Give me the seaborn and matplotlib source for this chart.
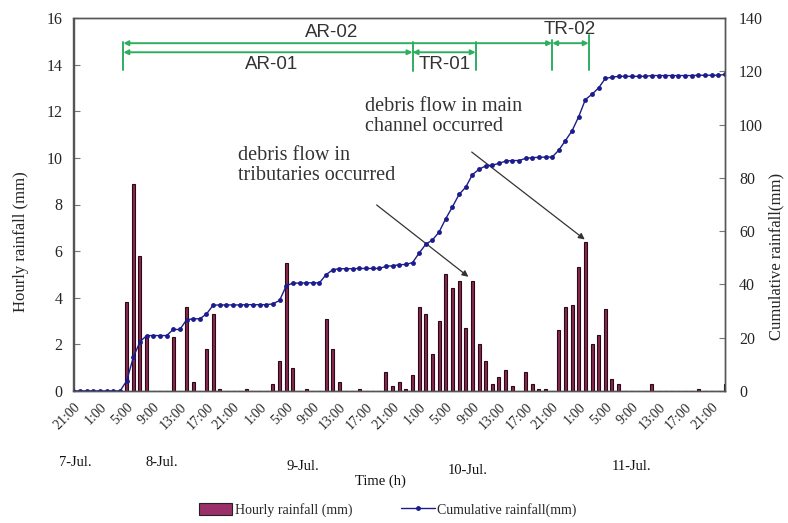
import matplotlib
matplotlib.use("Agg")
import matplotlib.pyplot as plt
import seaborn as sns
import pandas as pd
from matplotlib.patches import Patch
from matplotlib.lines import Line2D

# ---------------- data ----------------
hours = list(range(99))  # 21:00 7-Jul ... 0:00 12-Jul
hourly_rain = [
    0, 0, 0, 0, 0, 0, 0, 0, 3.8, 8.9,
    5.8, 2.3, 0, 0, 0, 2.3, 0, 3.6, 0.4, 0,
    1.8, 3.3, 0.1, 0, 0, 0, 0.1, 0, 0, 0,
    0.3, 1.3, 5.5, 1.0, 0, 0.1, 0, 0, 3.1, 1.8,
    0.4, 0, 0, 0.1, 0, 0, 0, 0.8, 0.2, 0.4,
    0.1, 0.7, 3.6, 3.3, 1.6, 3.0, 5.0, 4.4, 4.7, 2.7,
    4.7, 2.0, 1.3, 0.3, 0.6, 0.9, 0.2, 0, 0.8, 0.3,
    0.1, 0.1, 0, 2.6, 3.6, 3.7, 5.3, 6.4, 2.0, 2.4,
    3.5, 0.5, 0.3, 0, 0, 0, 0, 0.3, 0, 0,
    0, 0, 0, 0, 0.1, 0, 0, 0, 0.3,
]
cumulative_rain = [
    0, 0, 0, 0, 0, 0, 0, 0, 3.8, 12.7,
    18.5, 20.8, 20.8, 20.8, 20.8, 23.1, 23.1, 26.7, 27.1, 27.1,
    28.9, 32.2, 32.3, 32.3, 32.3, 32.3, 32.4, 32.4, 32.4, 32.4,
    32.7, 34.0, 39.5, 40.5, 40.5, 40.6, 40.6, 40.6, 43.7, 45.5,
    45.9, 45.9, 45.9, 46.0, 46.0, 46.0, 46.0, 46.8, 47.0, 47.4,
    47.5, 48.2, 51.8, 55.1, 56.7, 59.7, 64.7, 69.1, 73.8, 76.5,
    81.2, 83.2, 84.5, 84.8, 85.4, 86.3, 86.5, 86.5, 87.3, 87.6,
    87.7, 87.8, 87.8, 90.4, 94.0, 97.7, 103.0, 109.4, 111.4, 113.8,
    117.3, 117.8, 118.1, 118.1, 118.1, 118.1, 118.1, 118.4, 118.4, 118.4,
    118.4, 118.4, 118.4, 118.4, 118.5, 118.5, 118.5, 118.5, 118.8,
]
tick_hours = list(range(0, 97, 4))
tick_labels = ["21:00", "1:00", "5:00", "9:00", "13:00", "17:00"] * 4 + ["21:00"]
date_labels = ["7-Jul.", "8-Jul.", "9-Jul.", "10-Jul.", "11-Jul."]

df = pd.DataFrame({"hour": hours, "hourly": hourly_rain, "cum": cumulative_rain})

# ---------------- style ----------------
sns.set_style("white")
plt.rcParams["font.family"] = ["Liberation Serif", "DejaVu Serif"]

BAR_FACE = "#85294f"
BAR_EDGE = "#2b0a18"
LINE_COL = "#1c1c8c"
GREEN = "#2fae60"
TXT = "#333333"

fig = plt.figure(figsize=(7.88, 5.23), dpi=100)
ax = fig.add_axes([73.5 / 788, 1 - 391 / 523, (725 - 73.5) / 788, (391 - 18) / 523])

sns.barplot(data=df, x="hour", y="hourly", ax=ax, native_scale=True,
            width=0.45, color=BAR_FACE, edgecolor=BAR_EDGE, linewidth=0.8,
            saturation=1, errorbar=None)
ax.set_xlim(0, 98)
ax.set_ylim(0, 16)
ax.set_yticks(range(0, 17, 2))
ax.set_xticks(tick_hours)
ax.set_xticklabels(tick_labels, rotation=45, ha="right", va="top",
                   rotation_mode="anchor", fontsize=10)
ax.set_xticks(hours, minor=True)
ax.tick_params(axis="x", which="major", direction="in", length=4, pad=7, color="#777")
ax.tick_params(axis="x", which="minor", direction="in", length=3, color="#999")
ax.tick_params(axis="y", direction="in", length=4, labelsize=11.5, pad=8, color="#777")
ax.set_xlabel("")
ax.set_ylabel("Hourly rainfall (mm)", fontsize=12)
ax.yaxis.set_label_coords(-0.069, 0.40)
for s in ax.spines.values():
    s.set_color("#555555")
    s.set_linewidth(1.0)

ax2 = ax.twinx()
sns.lineplot(data=df, x="hour", y="cum", ax=ax2, color=LINE_COL, lw=1.0,
             marker="o", markersize=3.5, markeredgewidth=0, markerfacecolor=LINE_COL)
ax2.set_ylim(0, 140)
ax2.set_xlim(0, 98)
ax2.set_yticks(range(0, 141, 20))
ax2.tick_params(axis="y", direction="in", length=4, labelsize=11.5, pad=10, color="#777")
ax2.set_xlabel("")
ax2.set_ylabel("Cumulative rainfall(mm)", fontsize=12)
ax2.yaxis.set_label_coords(1.066, 0.36)
for s in ax2.spines.values():
    s.set_color("#555555")
    s.set_linewidth(1.0)

# ---------------- period annotations (green) ----------------
arrow_kw = dict(arrowstyle="<|-|>", color=GREEN, lw=1.4, mutation_scale=7,
                shrinkA=0, shrinkB=0)
ax.annotate("", xy=(7.5, 14.92), xytext=(72.0, 14.92), arrowprops=arrow_kw)
ax.annotate("", xy=(7.5, 14.53), xytext=(51.0, 14.53), arrowprops=arrow_kw)
ax.annotate("", xy=(51.0, 14.53), xytext=(60.5, 14.53), arrowprops=arrow_kw)
ax.annotate("", xy=(72.0, 14.92), xytext=(77.5, 14.92), arrowprops=arrow_kw)
for xv, y0, y1 in [(7.5, 13.75, 14.95), (51.0, 13.72, 14.95), (60.5, 13.77, 14.95),
                   (72.0, 13.77, 15.05), (77.5, 13.77, 15.25)]:
    ax.plot([xv, xv], [y0, y1], color=GREEN, lw=1.4)

sans = ["Liberation Sans", "DejaVu Sans"]
ax.text(38.9, 15.02, "AR-02", family=sans, fontsize=13.5, color=TXT, ha="center", va="bottom")
ax.text(29.8, 14.35, "AR-01", family=sans, fontsize=13.5, color=TXT, ha="center", va="top")
ax.text(55.9, 14.35, "TR-01", family=sans, fontsize=13.5, color=TXT, ha="center", va="top")
ax.text(74.7, 15.15, "TR-02", family=sans, fontsize=13.5, color=TXT, ha="center", va="bottom")

# ---------------- debris flow notes ----------------
ax.text(43.8, 12.6, "debris flow in main\nchannel occurred", fontsize=14.5, color=TXT,
        ha="left", va="top", linespacing=1.05)
ax.text(24.7, 10.5, "debris flow in\ntributaries occurred", fontsize=14.5, color=TXT,
        ha="left", va="top", linespacing=1.05)
note_kw = dict(arrowstyle="-|>", color="#333333", lw=0.9, mutation_scale=9,
               shrinkA=0, shrinkB=0)
ax.annotate("", xy=(76.9, 6.5), xytext=(59.9, 10.25), arrowprops=note_kw)
ax.annotate("", xy=(59.4, 4.9), xytext=(45.6, 7.98), arrowprops=note_kw)

# ---------------- date labels / axis title ----------------
for lab, (px, py) in zip(date_labels, [(75, 462), (162, 462), (303, 467), (468, 470), (632, 466)]):
    fig.text(px / 788, 1 - py / 523, lab, fontsize=10.5, ha="center", va="center", color="#111")
fig.text(380 / 788, 1 - 481 / 523, "Time (h)", fontsize=10.5, ha="center", va="center", color="#111")

# ---------------- legend ----------------
handles = [Patch(facecolor="#9b2f6a", edgecolor="#222", lw=0.8),
           Line2D([0], [0], color=LINE_COL, lw=1.0, marker="o", markersize=3.5,
                  markeredgewidth=0)]
fig.legend(handles, ["Hourly rainfall (mm)", "Cumulative rainfall(mm)"],
           loc="center", bbox_to_anchor=(388 / 788, 1 - 510 / 523), ncol=2,
           frameon=False, fontsize=10, handlelength=2.4, handleheight=1.0,
           columnspacing=3.5, handletextpad=0.2)

fig.savefig("out.png", dpi=100)
